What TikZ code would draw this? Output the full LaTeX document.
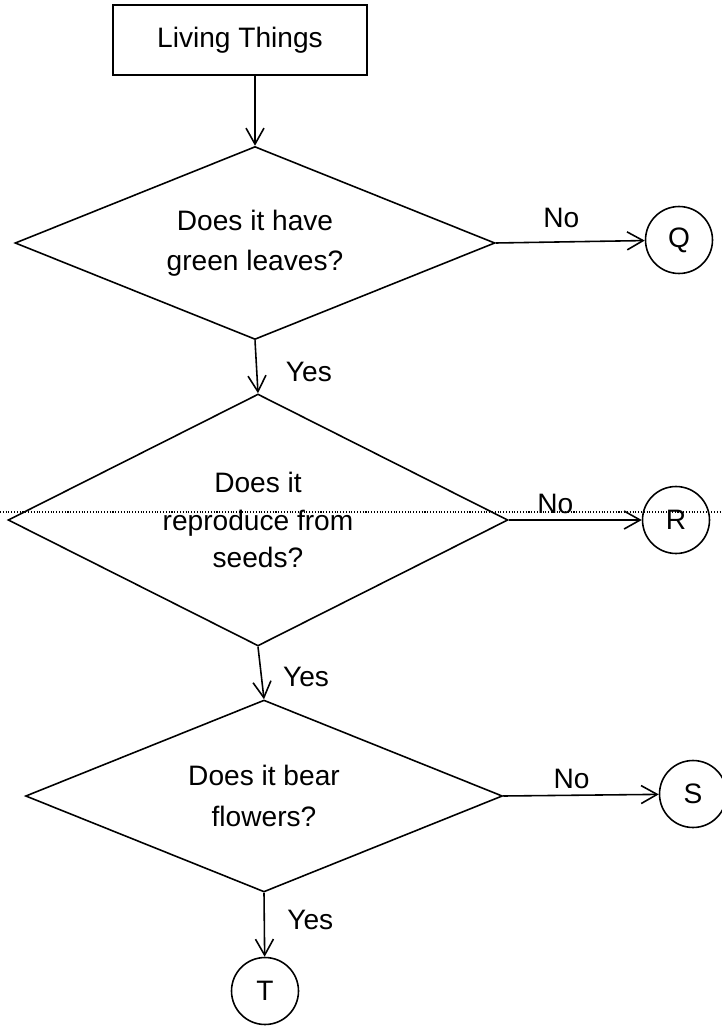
\documentclass[tikz,border=0pt]{standalone}
\usepackage{fontspec}
\setmainfont{Liberation Sans}
\usetikzlibrary{shapes.geometric,arrows.meta}

\begin{document}
\begin{tikzpicture}[x=0.02cm, y=-0.02cm, line width=0.9pt,
    >={Straight Barb[length=3.2mm,width=3.6mm]},
    every node/.style={font=\fontsize{16}{23}\selectfont},
    decision/.style={diamond, draw, align=center, inner sep=0pt},
    outcome/.style={circle, draw, minimum size=1.34cm, inner sep=0pt}]
    \useasboundingbox (0,0) rectangle (722,1027);

    \node (living) [rectangle, draw, minimum width=5.08cm, minimum height=1.4cm] at (240,40) {Living Things};
    \node (leaves) [decision, aspect=2.5, minimum width=9.6cm, minimum height=3.86cm] at (255,243) {Does it have\\green leaves?};
    \node (seeds) [decision, aspect=2, minimum width=10cm, minimum height=5.04cm, font=\fontsize{16}{21.5}\selectfont] at (258,520) {Does it\\reproduce from\\seeds?};
    \node (flowers) [decision, aspect=2.5, minimum width=9.54cm, minimum height=3.84cm] at (264,796) {Does it bear\\flowers?};

    \node (q) [outcome] at (679,240) {Q};
    \node (r) [outcome] at (676,520) {R};
    \node (s) [outcome] at (693,794) {S};
    \node (t) [outcome] at (265,991) {T};

    \draw [->] (living.south -| leaves.north) -- (leaves.north);
    \draw [->] (leaves.south) -- (seeds.north) node [pos=0.6, right=0.45cm] {Yes};
    \draw [->] (seeds.south) -- (flowers.north) node [pos=0.58, right=0.3cm] {Yes};
    \draw [->] (flowers.south) -- (t) node [pos=0.42, right=0.33cm] {Yes};

    \draw [->] (leaves.east) -- (q) node [pos=0.44, above=0.15cm] {No};
    \draw [->] (seeds.east) -- (r) node [pos=0.35, above=0cm] {No};
    \draw [->] (flowers.east) -- (s) node [pos=0.44, above=0cm] {No};

    % stray dotted rule across the page
    \draw [densely dotted, line width=0.6pt] (0,512) -- (722,512);
\end{tikzpicture}
\end{document}
